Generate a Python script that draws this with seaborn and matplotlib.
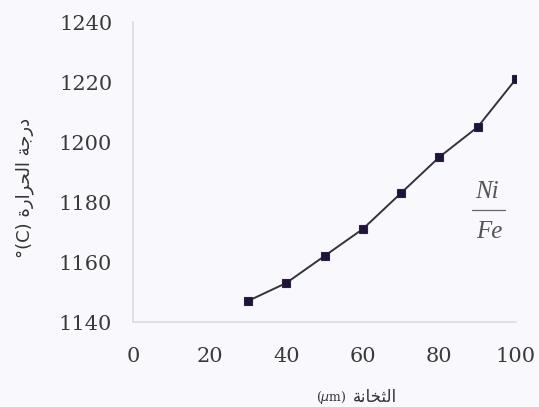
import matplotlib
matplotlib.use("Agg")
import matplotlib.pyplot as plt
import seaborn as sns
import pandas as pd

# Thickness (µm) and temperature (°C)
thickness = [30, 40, 50, 60, 70, 80, 90, 100]
temperature = [1147, 1153, 1162, 1171, 1183, 1195, 1205, 1221]
x_ticks = [0, 20, 40, 60, 80, 100]
y_ticks = [1140, 1160, 1180, 1200, 1220, 1240]

# Arabic labels in presentation forms, visual (left-to-right) order
ylabel_text = "°(C) " + "\uFE93\uFEAD\uFE8D\uFEAE\uFEA4\uFEDF\uFE8D" + " " + "\uFE94\uFE9F\uFEAD\uFEA9"
xlabel_word = "\uFE94\uFEE7\uFE8E\uFEA8\uFE9C\uFEDF\uFE8D"

df = pd.DataFrame({"thickness": thickness, "temperature": temperature})

sns.set_theme(style="white")
bg = "#f8f8fd"
fig = plt.figure(figsize=(5.39, 4.07), dpi=100, facecolor=bg)
ax = fig.add_axes([0.2468, 0.2088, 0.9573 - 0.2468, 0.9459 - 0.2088])
ax.set_facecolor(bg)

sns.lineplot(data=df, x="thickness", y="temperature", ax=ax,
             color="#33333f", linewidth=1.4, marker="s", markersize=6,
             markerfacecolor="#17173a", markeredgecolor="#3a1a3a",
             markeredgewidth=0.8)

ax.set_xlim(0, 100)
ax.set_ylim(1140, 1240)
ax.set_xticks(x_ticks)
ax.set_yticks(y_ticks)
ax.set_xticklabels([str(t) for t in x_ticks], family="DejaVu Serif",
                   fontsize=15, color="#3a3a3a")
ax.set_yticklabels([str(t) for t in y_ticks], family="DejaVu Serif",
                   fontsize=15, color="#3a3a3a")
ax.tick_params(axis="x", length=3, width=0.8, color="#d0d0d8", pad=18, direction="in")
ax.tick_params(axis="y", length=0, pad=15)

for side in ("top", "right"):
    ax.spines[side].set_visible(False)
for side in ("left", "bottom"):
    ax.spines[side].set_color("#dcdce4")
    ax.spines[side].set_linewidth(1.2)

ax.set_xlabel("")
ax.set_ylabel("")

fig.text(0.046, 0.538, ylabel_text, rotation=90, ha="center", va="center",
         family="DejaVu Sans", fontsize=13, color="#333333")
fig.text(0.655, 0.024, xlabel_word, ha="left", va="center",
         family="DejaVu Sans", fontsize=12, color="#333333")
fig.text(0.644, 0.024, r"($\mu$m)", ha="right", va="center",
         family="DejaVu Serif", fontsize=9, color="#333333")

# Ni/Fe fraction label
ax.text(0.924, 0.435, "Ni", transform=ax.transAxes, ha="center", va="center",
        family="Liberation Serif", style="italic", fontsize=18, color="#555555")
ax.plot([0.885, 0.972], [0.373, 0.373], transform=ax.transAxes,
        color="#666666", linewidth=0.9, clip_on=False)
ax.text(0.93, 0.300, "Fe", transform=ax.transAxes, ha="center", va="center",
        family="Liberation Serif", style="italic", fontsize=18, color="#555555")

fig.savefig("out.png", dpi=100, facecolor=bg)
